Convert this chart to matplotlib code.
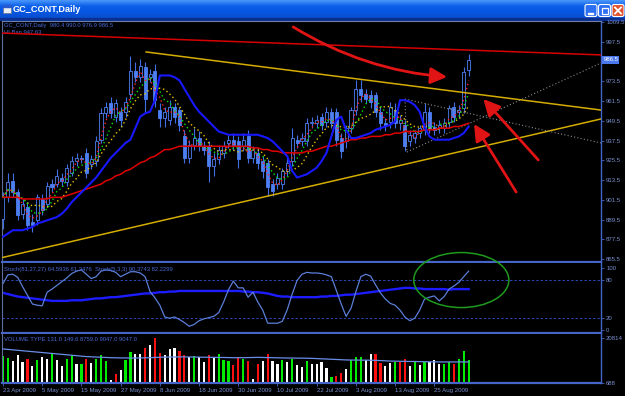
import numpy as np
import pandas as pd
import matplotlib
matplotlib.use("Agg")
import matplotlib.pyplot as plt
from matplotlib.colors import LinearSegmentedColormap
from matplotlib.patches import Ellipse, FancyBboxPatch, Rectangle

plt.rcParams['font.family'] = ['Liberation Sans', 'DejaVu Sans']

# ---- values (one bar per trading day, 23 Apr .. 3 Sep 2009) ----
opens = [890, 903, 913, 906, 893, 897, 888, 889, 902, 899, 911, 911, 915, 912, 918, 925,
         927, 930, 923, 925, 938, 954, 960, 952, 955, 955, 966, 980, 976, 982, 976, 980,
         956, 951, 950, 958, 956, 940, 927, 935, 939, 934, 934, 922, 926, 930, 936, 938,
         937, 934, 940, 927, 930, 925, 924, 911, 911, 911, 919, 925, 938, 937, 937, 948,
         948, 952, 949, 955, 955, 939, 937, 945, 956, 969, 966, 965, 965, 955, 948, 949,
         956, 948, 947, 937, 939, 942, 944, 955, 946, 945, 945, 949, 958, 955, 957, 980.4]
closes = [903, 912, 906, 892, 899, 886, 886, 903, 895, 910, 909, 916, 913, 921, 925, 927,
          926, 918, 926, 937, 954, 958, 954, 960, 950, 961, 980, 976, 983, 963, 978, 962,
          951, 955, 958, 952, 947, 927, 935, 939, 934, 932, 922, 926, 932, 934, 938, 935,
          926, 938, 927, 932, 924, 919, 909, 907, 915, 919, 924, 939, 936, 939, 948, 949,
          950, 947, 955, 948, 938, 931, 945, 956, 969, 965, 963, 961, 955, 948, 947, 958,
          948, 950, 934, 941, 942, 945, 955, 945, 944, 947, 948, 957, 952, 956, 979, 986.5]
highs = [906, 918, 918, 908, 902, 900, 893, 905, 905, 912, 914, 920, 918, 923, 928, 930,
         929, 933, 929, 940, 957, 961, 964, 963, 958, 964, 989, 985, 987, 985, 981, 984,
         960, 958, 962, 960, 958, 944, 938, 945, 943, 937, 937, 930, 935, 937, 941, 942,
         940, 942, 944, 934, 933, 928, 926, 914, 918, 921, 927, 945, 941, 942, 951, 952,
         953, 954, 958, 957, 957, 942, 947, 958, 974, 974, 969, 968, 967, 958, 951, 961,
         960, 953, 950, 944, 944, 947, 960, 958, 949, 950, 951, 959, 961, 959, 982, 990.0]
lows = [884, 900, 903, 889, 890, 883, 882, 886, 892, 897, 906, 909, 910, 910, 916, 922,
        924, 915, 920, 922, 936, 951, 951, 949, 946, 952, 963, 973, 973, 955, 973, 958,
        946, 946, 947, 948, 943, 924, 924, 932, 931, 929, 912, 916, 923, 927, 933, 932,
        921, 931, 924, 924, 920, 915, 904, 904, 908, 908, 916, 922, 933, 934, 934, 945,
        945, 944, 946, 945, 934, 927, 933, 942, 953, 961, 960, 957, 952, 944, 943, 945,
        945, 944, 931, 934, 936, 939, 941, 942, 941, 942, 942, 945, 949, 951, 954, 976.9]

ma_blue = [879, 881, 883, 883, 883, 884, 885, 887, 888, 889, 890, 891, 893, 896, 900, 903,
           906, 909, 912, 915, 919, 923, 927, 930, 933, 936, 938, 945, 952, 954, 955, 962,
           977, 977, 977, 976, 974, 969, 964, 959, 955, 952, 949, 946, 943, 942, 941, 941,
           941, 941, 941, 941, 941, 940, 939, 937, 934, 931, 928, 919, 915, 916, 917, 919,
           921, 925, 930, 940, 950, 952, 944, 939, 939, 940, 941, 942, 944, 945, 946, 947,
           949, 962, 962, 961, 959, 955, 946, 940, 938, 938, 938, 938, 939, 940, 942, 946]
ma_red = [903, 903, 903, 903, 902, 902, 902, 902, 902, 902, 903, 903, 903, 904, 905, 906,
          907, 908, 909, 910, 911, 913, 914, 916, 917, 919, 920, 922, 924, 925, 927, 928,
          930, 932, 932, 933, 934, 934, 934, 934, 934, 934, 934, 934, 934, 934, 934, 934,
          934, 934, 934, 933, 933, 932, 932, 931, 931, 930, 930, 930, 930, 930, 931, 931,
          932, 933, 934, 934, 935, 936, 937, 938, 938, 939, 939, 940, 940, 940, 941, 941,
          942, 942, 943, 943, 943, 943, 944, 944, 944, 945, 945, 945, 946, 946, 947, 948]

stoch_fast = [75, 89, 90, 85, 70, 56, 42, 40, 39, 61, 66, 72, 78, 84, 91, 95,
              97, 90, 83, 86, 95, 97, 96, 93, 86, 90, 94, 94, 92, 86, 62, 52,
              40, 21, 19, 21, 17, 12, 6, 9, 15, 18, 20, 22, 28, 45, 65, 79,
              68, 68, 53, 61, 45, 32, 11, 11, 11, 14, 33, 58, 80, 90, 93, 92,
              92, 91, 89, 86, 64, 42, 22, 35, 62, 86, 90, 87, 73, 60, 50, 43,
              40, 32, 21, 15, 19, 32, 50, 53, 55, 47, 54, 66, 71, 77, 86, 95]
stoch_slow = [60, 58, 56, 54, 53, 52, 51, 50, 49, 48, 47, 47, 47, 47, 48, 48,
              48, 49, 50, 51, 51, 52, 53, 53, 54, 55, 56, 57, 58, 59, 59, 60,
              61, 61, 62, 62, 63, 63, 63, 63, 63, 63, 63, 63, 63, 63, 63, 63,
              63, 62, 62, 61, 61, 60, 59, 57, 55, 54, 54, 53, 53, 53, 53, 53,
              53, 54, 54, 55, 55, 56, 57, 57, 58, 59, 60, 61, 62, 63, 64, 65,
              66, 67, 68, 68, 67, 67, 66, 66, 66, 66, 66, 65, 66, 66, 66, 66]

volumes = [12760, 11860, 10520, 13200, 10080, 11420, 8290, 10970, 12310, 11420, 14100, 10970,
           8290, 11420, 13200, 9180, 9180, 11420, 9630, 11420, 13200, 10520, 2030, 4710,
           6500, 10970, 14550, 13650, 13650, 16330, 17670, 20800, 14100, 13200, 15890, 16330,
           14990, 13200, 12310, 12760, 12310, 10080, 13200, 12310, 13650, 10970, 10520, 8730,
           12310, 11420, 10520, 2480, 9180, 10520, 13650, 10520, 9180, 10970, 10080, 11420,
           8730, 7840, 10520, 9180, 9180, 10080, 7390, 3370, 3820, 5160, 6950, 10970,
           12310, 12310, 10970, 13650, 13650, 9630, 8290, 9630, 10080, 10080, 11420, 8290,
           10520, 8730, 10080, 10080, 10970, 9180, 9180, 10080, 9180, 11420, 14990, 10970]
vol_type = list("GGWWWRWGWWGWWGGWGRWGGGWRWGGWWRWRRWWWRRWGWWRWGGGRRGRWRWRWWGWGWWGWWWWGRRWGGGWWRRWWGRRWGWGWWWGGRGGG")
vol_avg = [15900, 15700, 15500, 15300, 15100, 14900, 14700, 14500, 14300, 14100, 13900, 13700,
           13500, 13300, 13100, 12900, 12700, 12500, 12400, 12300, 12200, 12100, 12000, 11950,
           11900, 11900, 11850, 11850, 11900, 11950, 12000, 12100, 12200, 12250, 12300, 12300,
           12350, 12350, 12300, 12300, 12250, 12200, 12200, 12150, 12100, 12100, 12050, 12000,
           12000, 12000, 12050, 12100, 12150, 12100, 12050, 12000, 11950, 11900, 11850, 11850,
           11800, 11800, 11750, 11700, 11600, 11500, 11400, 11300, 11200, 11100, 11000, 10950,
           10950, 10900, 10900, 10850, 10800, 10700, 10600, 10500, 10450, 10400, 10350, 10300,
           10300, 10250, 10200, 10150, 10150, 10100, 10100, 10100, 10100, 10100, 10100, 10100]

date_idx = [0, 8, 16, 24, 32, 40, 48, 56, 64, 72, 80, 88]
date_labels = ["23 Apr 2009", "5 May 2009", "15 May 2009", "27 May 2009", "8 Jun 2009",
               "18 Jun 2009", "30 Jun 2009", "10 Jul 2009", "22 Jul 2009", "3 Aug 2009",
               "13 Aug 2009", "25 Aug 2009"]
price_ticks = [865.5, 877.5, 889.5, 901.5, 913.5, 925.5, 937.5, 949.5, 961.5, 973.5, 985.5, 997.5, 1009.5]
stoch_ticks = [0, 20, 80, 100]
vol_ticks = [688, 20814]

# hand drawn objects, anchored in (bar, price)
red_line = ([-0.6, 122], [1002.8, 989.5])
yellow_top = ([29.2, 122], [991.3, 956.0])
yellow_bottom = ([-0.6, 122], [866.1, 950.6])
gray_down = ([82.0, 122], [962.7, 936.0])
gray_up = ([82.4, 122], [930.5, 984.6])
arrows = [((59.2, 1006.5), (90.6, 976.1), 0.12),
          ((109.2, 925.7), (98.0, 962.7), 0.0),
          ((104.7, 906.2), (96.1, 947.5), 0.0)]

# ---- layout in screen pixels ----
W, H = 625, 396
frame = '#4565c8'
label_c = '#7b90cf'
head_c = '#4a6ad8'


def box(x0, y0, x1, y1):
    return [x0 / W, 1 - y1 / H, (x1 - x0) / W, (y1 - y0) / H]


fig = plt.figure(figsize=(W / 100, H / 100), dpi=100, facecolor='black')

# window title bar
bg = fig.add_axes([0, 0, 1, 1])
bg.set_xlim(0, W)
bg.set_ylim(H, 0)
bg.axis('off')
xp = LinearSegmentedColormap.from_list('xp', ['#4a97fb', '#0c5fe9', '#0556e0', '#0a4fd2'])
bg.imshow(np.linspace(0, 1, 40)[:, None], cmap=xp, extent=(0, W, 18, 0), aspect='auto')
bg.add_patch(Rectangle((0, 18), W, 1.5, color='#0a2f8f'))
bg.add_patch(Rectangle((3, 5), 8, 8, fc='#e8ecf4', ec='#6a7a9a', lw=0.6))
bg.add_patch(Rectangle((3, 5), 8, 2, color='#2a5ad0'))
bg.text(13, 10, 'GC_CONT,Daily', color='white', fontweight='bold', fontsize=6.6,
        va='center', ha='left')
for bx, fc in [(585, '#2c6ff2'), (598.5, '#2c6ff2'), (612, '#e0522c')]:
    bg.add_patch(FancyBboxPatch((bx, 4.5), 12, 12, boxstyle='round,pad=0,rounding_size=2',
                                fc=fc, ec='white', lw=0.8))
bg.add_patch(Rectangle((588, 12.5), 5, 1.6, color='white'))
bg.add_patch(Rectangle((601.5, 7.5), 6, 6, fc='none', ec='white', lw=0.9))
bg.plot([615, 621], [7.5, 13.5], color='white', lw=1.3)
bg.plot([615, 621], [13.5, 7.5], color='white', lw=1.3)

idx = np.arange(len(closes))
xlim = (-0.2, 122.0)


def style(ax):
    ax.set_facecolor('black')
    ax.set_xlim(*xlim)
    for side in ['left', 'right', 'top', 'bottom']:
        ax.spines[side].set_color(frame)
    ax.spines['left'].set_color('#5c6f9c')
    ax.spines['left'].set_linewidth(0.8)
    ax.spines['right'].set_linewidth(1.0)
    ax.spines['bottom'].set_linewidth(1.6)
    ax.spines['top'].set_visible(False)
    ax.yaxis.tick_right()
    ax.tick_params(axis='y', direction='out', length=2.5, width=0.6, color=frame,
                   labelcolor=label_c, labelsize=4.3, pad=1.2)
    ax.set_xticks([])


# ---- main price panel ----
ax = fig.add_axes(box(2, 21, 601, 262))
style(ax)
ax.spines['top'].set_visible(True)
ax.spines['top'].set_color('#6f7fa8')
ax.spines['top'].set_linewidth(0.8)
ax.set_ylim(863.7, 1010.1)
# the 985.5 label sits under the current-price box, so it is left blank
ax.set_yticks(price_ticks, ["" if t == 985.5 else f"{t:.1f}" for t in price_ticks])

o = np.array(opens)
c = np.array(closes)
bull = c >= o
ax.vlines(idx, lows, highs, color='#3f6fe2', lw=0.8, zorder=2)
ax.bar(idx, np.abs(c - o), bottom=np.minimum(o, c), width=0.62,
       color=np.where(bull, 'black', '#4d7ff2'), edgecolor='#4d7ff2', lw=0.6, zorder=3)

cs = pd.Series(closes)
ax.plot(idx, cs.rolling(8, min_periods=1).mean(), color='#e8c400', lw=1, ls=(0, (1, 2)), zorder=4)
ax.plot(idx, cs.rolling(5, min_periods=1).mean(), color='#00e400', lw=1, ls=(0, (1, 2)), zorder=4)
ax.plot(idx, cs.rolling(3, min_periods=1).mean(), color='#ff2020', lw=1, ls=(1, (1, 2)), zorder=4)
ax.plot(idx, ma_red, color='#e00000', lw=1.1, zorder=5)
ax.plot(idx, ma_blue, color='#1818ff', lw=1.5, zorder=5)

ax.plot(*red_line, color='#d80000', lw=1.1, zorder=4)
ax.plot(*yellow_top, color='#d4ad00', lw=1.1, zorder=4)
ax.plot(*yellow_bottom, color='#d4ad00', lw=1.1, zorder=4)
ax.plot(*gray_down, color='#8a8a8a', lw=0.8, ls=(0, (1, 2)), zorder=4)
ax.plot(*gray_up, color='#8a8a8a', lw=0.8, ls=(0, (1, 2)), zorder=4)
ax.plot([gray_down[0][0], gray_up[0][0]], [gray_down[1][0], gray_up[1][0]],
        color='#8a8a8a', lw=0.8, ls=(0, (1, 2)), zorder=4)

for tail, tip, rad in arrows:
    ax.annotate('', xy=tip, xytext=tail, zorder=6,
                arrowprops=dict(arrowstyle='-|>,head_length=0.9,head_width=0.45',
                                color='#e01414', lw=2, shrinkA=0, shrinkB=0,
                                mutation_scale=11, connectionstyle=f'arc3,rad={rad}'))

ax.text(1.004, closes[-1], f"{closes[-1]:.1f}", transform=ax.get_yaxis_transform(),
        fontsize=4.3, color='white', va='center', ha='left', zorder=10, clip_on=False,
        bbox=dict(boxstyle='square,pad=0.2', fc='#4b78ee', ec='none'))
ax.text(0.004, 0.991, f"GC_CONT,Daily  {opens[-1]:.1f} {highs[-1]:.1f} {lows[-1]:.1f} {closes[-1]:.1f}",
        transform=ax.transAxes, fontsize=4.2, color=head_c, va='top', ha='left')
ax.text(0.004, 0.962, "HLBan 947.63", transform=ax.transAxes, fontsize=4.2,
        color=head_c, va='top', ha='left')

# ---- stochastic panel ----
ax_s = fig.add_axes(box(2, 263, 601, 333))
style(ax_s)
ax_s.set_ylim(-4.8, 108.1)
ax_s.set_yticks(stoch_ticks, [str(t) for t in stoch_ticks])
for lvl in (20, 80):
    ax_s.axhline(lvl, color='#2a46b8', lw=0.7, ls=(0, (2.5, 2)))
ax_s.plot(idx, stoch_slow, color='#1c1cff', lw=1.7)
ax_s.plot(idx, stoch_fast, color='#5b7ed8', lw=0.9)
ax_s.add_patch(Ellipse((93.5, 80.6), 19.4, 88.7, fill=False, ec='#1e9a1e', lw=1.1,
                       clip_on=False, zorder=6))
ax_s.text(0.004, 0.95, "Stoch(81,27,27) 64.5936 61.3476  Stoch(5,3,3) 90.3743 82.2299",
          transform=ax_s.transAxes, fontsize=4.2, color=head_c, va='top', ha='left')

# ---- volume panel ----
ax_v = fig.add_axes(box(2, 334, 601, 383))
style(ax_v)
ax_v.set_ylim(688, 22591)
ax_v.set_yticks(vol_ticks, [str(t) for t in vol_ticks])
vcol = {'G': '#00ec00', 'R': '#ff1010', 'W': '#ffffff'}
ax_v.bar(idx, volumes, width=0.45, color=[vcol[t] for t in vol_type], zorder=2)
ax_v.plot(idx, vol_avg, color='#6a8ee8', lw=0.9, zorder=3)
ax_v.text(0.004, 0.93, "VOLUME TYPE 131.0 149.6 8759.0 9047.0 9047.0",
          transform=ax_v.transAxes, fontsize=4.2, color=head_c, va='top', ha='left')
ax_v.set_xticks(date_idx, date_labels, ha='left')
ax_v.tick_params(axis='x', direction='out', length=2.5, width=0.6, color=frame,
                 labelcolor=label_c, labelsize=4.4, pad=1.2)

fig.savefig('out.png', dpi=100, facecolor='black')
